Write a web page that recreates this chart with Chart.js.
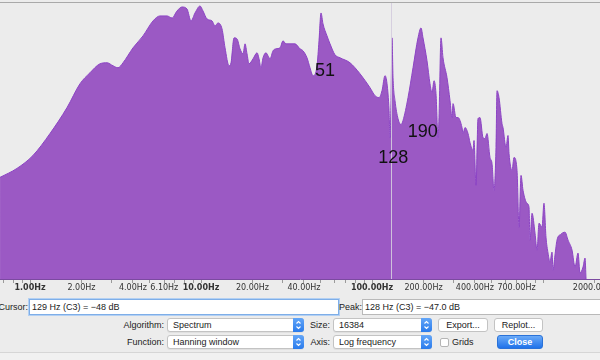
<!DOCTYPE html>
<html>
<head>
<meta charset="utf-8">
<script src="https://cdn.jsdelivr.net/npm/chart.js@4.4.1/dist/chart.umd.min.js"></script>
<style>
  html, body { margin:0; padding:0; }
  body { width:600px; height:360px; overflow:hidden; background:#ececec; position:relative;
         font-family:"Liberation Sans", Arial, sans-serif; font-size:9px; color:#222; }
  #wrap { position:absolute; left:0; top:0; width:600px; height:295px; }
  .abs { position:absolute; white-space:nowrap; }
  .lbl { text-align:right; }
  .field { background:#fff; border:1px solid #b9b9b9; box-sizing:border-box; padding-left:2px; }
  .focus { border:1px solid #7eaee8; box-shadow:0 0 0 1px #b3d0f3; }
  .combo { background:#fff; border:1px solid #c3c3c3; border-radius:3px; box-sizing:border-box;
           padding-left:5px; box-shadow:0 1px 0 rgba(0,0,0,0.05); }
  .step { position:absolute; right:-1px; top:-1px; bottom:-1px; width:11px; border-radius:0 3px 3px 0;
          background:linear-gradient(#63a6f8,#2a7bec); }
  .btn { background:#fff; border:1px solid #c3c3c3; border-radius:3px; box-sizing:border-box; text-align:center; }
  .blue { background:linear-gradient(#6aaaf8,#1f72ea); border:1px solid #2a72d8; color:#fff; font-weight:bold; }
</style>
</head>
<body>
<div id="wrap"><canvas id="c" width="600" height="295"></canvas></div>

<div class="abs lbl" style="left:-22px;top:299px;width:50px;height:16px;line-height:16px;">Cursor:</div>
<div class="abs field focus" style="left:29px;top:299px;width:310px;height:16px;line-height:14px;">129 Hz (C3) = −48 dB</div>
<div class="abs lbl" style="left:332px;top:299px;width:30px;height:16px;line-height:16px;">Peak:</div>
<div class="abs field" style="left:362px;top:299px;width:250px;height:16px;line-height:14px;">128 Hz (C3) = −47.0 dB</div>

<div class="abs lbl" style="left:100px;top:318px;width:64px;height:14px;line-height:14px;">Algorithm:</div>
<div class="abs combo" style="left:167px;top:318px;width:137px;height:14px;line-height:12px;">Spectrum<div class="step"><svg width="11" height="14" viewBox="0 0 11 14"><polyline points="3.5,5.5 5.5,3.5 7.5,5.5" fill="none" stroke="#fff" stroke-width="1.1"/><polyline points="3.5,8.5 5.5,10.5 7.5,8.5" fill="none" stroke="#fff" stroke-width="1.1"/></svg></div></div>
<div class="abs lbl" style="left:300px;top:318px;width:30px;height:14px;line-height:14px;">Size:</div>
<div class="abs combo" style="left:333px;top:318px;width:99px;height:14px;line-height:12px;">16384<div class="step"><svg width="11" height="14" viewBox="0 0 11 14"><polyline points="3.5,5.5 5.5,3.5 7.5,5.5" fill="none" stroke="#fff" stroke-width="1.1"/><polyline points="3.5,8.5 5.5,10.5 7.5,8.5" fill="none" stroke="#fff" stroke-width="1.1"/></svg></div></div>
<div class="abs btn" style="left:438px;top:318px;width:50px;height:14px;line-height:12px;">Export...</div>
<div class="abs btn" style="left:494px;top:318px;width:49px;height:14px;line-height:12px;">Replot...</div>

<div class="abs lbl" style="left:100px;top:335px;width:64px;height:14px;line-height:14px;">Function:</div>
<div class="abs combo" style="left:167px;top:335px;width:137px;height:14px;line-height:12px;">Hanning window<div class="step"><svg width="11" height="14" viewBox="0 0 11 14"><polyline points="3.5,5.5 5.5,3.5 7.5,5.5" fill="none" stroke="#fff" stroke-width="1.1"/><polyline points="3.5,8.5 5.5,10.5 7.5,8.5" fill="none" stroke="#fff" stroke-width="1.1"/></svg></div></div>
<div class="abs lbl" style="left:300px;top:335px;width:30px;height:14px;line-height:14px;">Axis:</div>
<div class="abs combo" style="left:333px;top:335px;width:99px;height:14px;line-height:12px;">Log frequency<div class="step"><svg width="11" height="14" viewBox="0 0 11 14"><polyline points="3.5,5.5 5.5,3.5 7.5,5.5" fill="none" stroke="#fff" stroke-width="1.1"/><polyline points="3.5,8.5 5.5,10.5 7.5,8.5" fill="none" stroke="#fff" stroke-width="1.1"/></svg></div></div>
<div class="abs" style="left:440px;top:338px;width:9px;height:9px;background:#fff;border:1px solid #b5b5b5;border-radius:2px;box-sizing:border-box;"></div>
<div class="abs" style="left:452px;top:335px;height:14px;line-height:14px;">Grids</div>
<div class="abs btn blue" style="left:497px;top:335px;width:46px;height:14px;line-height:12px;">Close</div>

<div class="abs" style="left:0;top:352px;width:600px;height:8px;background:#f1f1f1;border-top:1px solid #d6d6d6;"></div>

<script>
// ---- data ----
const freqHz = [0.668, 0.839, 1.041, 1.309, 1.646, 1.961, 2.243, 2.567, 2.820, 3.058, 3.271, 3.499, 4.003, 4.580,
  5.240, 5.757, 6.328, 6.768, 7.239, 7.742, 8.281, 8.741, 9.224, 9.866, 10.27, 10.84, 11.60, 12.07, 12.57, 13.27,
  13.82, 14.58, 14.98, 15.60, 16.24, 16.91, 17.61, 18.09, 18.58, 19.09, 20.15, 21.27, 21.84, 22.43, 23.05, 23.99,
  24.65, 25.32, 26.37, 27.46, 28.97, 30.17, 31.41, 33.15, 35.45, 37.93, 39.49, 41.67, 43.39, 45.18, 47.68, 48.98,
  50.32, 51.69, 54.55, 56.81, 60.76, 65.01, 74.35, 85.06, 97.34, 104.1, 109.9, 114.4, 119.1, 122.4, 125.8, 127.4,
  129.2, 130.9, 132.7, 136.3, 141.9, 147.8, 151.8, 162.4, 173.7, 185.8, 193.4, 198.7, 209.7, 218.3, 224.3, 230.5,
  236.7, 243.2, 246.5, 253.2, 260.1, 274.6, 285.9, 293.7, 297.7, 309.9, 318.4, 336.0, 340.6, 349.9, 364.3, 374.2,
  389.6, 394.9, 405.7, 416.8, 428.1, 445.8, 458.0, 470.5, 489.8, 503.2, 516.9, 531.0, 538.3, 553.0, 575.7, 583.5,
  607.6, 624.2, 632.7, 658.8, 676.8, 704.7, 723.9, 743.7, 764.0, 806.3, 828.3, 839.5, 862.4, 898.0, 922.5, 947.6,
  986.6, 1013, 1041, 1070, 1099, 1129, 1144, 1175, 1207, 1274, 1345, 1401, 1478, 1539, 1602, 1646, 1714, 1761, 1785];
const levelDb = [-81.75, -79.5, -76.25, -70.75, -64.25, -58.25, -55.5, -53.25, -53, -53.75, -54.25, -53, -49.25, -46.25,
  -42.5, -41.25, -41.25, -41.75, -40, -39, -39.5, -42.5, -40.5, -38.75, -40, -42, -42.5, -43.75, -43, -44.5,
  -49.25, -53.75, -53, -46.75, -47, -49.5, -50.75, -48.25, -50.75, -53.25, -52, -50.5, -52, -54.25, -51.75, -50.5,
  -51.25, -52, -50, -49.5, -49.25, -47.5, -48.25, -48.25, -48.25, -49.5, -50, -51.75, -54.25, -56.25, -53.75, -47.5,
  -40.5, -43.25, -46.25, -48.25, -51, -51.75, -53, -55.75, -59.25, -61.25, -61.75, -60, -56.25, -58.25, -65, -71.75,
  -62.5, -46.75, -56.75, -62.5, -67, -68.5, -67.5, -61.75, -54.25, -46.75, -44.25, -46.75, -52.5, -58.25, -60.5, -57.5,
  -60.75, -71.75, -66.75, -46.75, -51.75, -56.75, -62.5, -66.75, -63.25, -66.75, -66.75, -69.25, -70.75, -69.25, -70.75, -73,
  -75, -72.5, -83.75, -67, -66.75, -71.75, -72, -70.75, -76.75, -78.25, -85, -74.25, -60, -61.75, -68.25, -69.25,
  -74.25, -71.25, -75.75, -80, -76.75, -80, -94.25, -81.25, -85, -88.25, -89.25, -97.5, -90.75, -95.75, -100, -93.25,
  -94.25, -88.25, -96.75, -100.75, -103, -100.5, -105, -101.25, -97.5, -96, -95.5, -97.5, -100, -104.25, -100.75, -105.75, -104.25, -102, -107.25];

// axis
const xMinHz = 0.6676, xMaxHz = 2154;
const yMinDb = -107.25, yMaxDb = -38;
const tickHz = [0.7, 0.8, 0.9, 1, 2, 3, 4, 5, 6.1, 7, 8, 9, 10, 20, 30, 40, 50, 60, 70, 80, 90,
  100, 200, 300, 400, 500, 600, 700, 800, 900, 1000, 2000];
const labeledHz = [1, 2, 4, 6.1, 10, 20, 40, 100, 200, 400, 700, 2000];
const boldHz = [1, 10, 100];

// peak annotations and cursor
const peakText = ['51', '128', '190'];
const peakHz = [51, 128, 190];
const peakDb = [-55, -77, -70.25];
const cursorHz = 129;

const points = freqHz.map((f, i) => ({ x: f, y: levelDb[i] }));

const overlay = {
  id: 'overlay',
  afterDatasetsDraw(chart) {
    const { ctx, chartArea: a, scales } = chart;
    ctx.save();
    ctx.strokeStyle = '#a9a9a9';
    ctx.lineWidth = 1;
    ctx.beginPath();
    ctx.moveTo(a.left, a.top - 0.5);
    ctx.lineTo(a.right, a.top - 0.5);
    ctx.stroke();
    const cx = Math.round(scales.x.getPixelForValue(cursorHz)) + 0.5;
    ctx.strokeStyle = 'rgba(212,204,222,0.9)';
    ctx.beginPath();
    ctx.moveTo(cx, a.top);
    ctx.lineTo(cx, a.bottom);
    ctx.stroke();
    ctx.fillStyle = '#111';
    ctx.font = '18px "Liberation Sans", Arial, sans-serif';
    ctx.textAlign = 'center';
    ctx.textBaseline = 'middle';
    peakText.forEach((t, i) => {
      ctx.fillText(t, scales.x.getPixelForValue(peakHz[i]) + 3, scales.y.getPixelForValue(peakDb[i]));
    });
    ctx.restore();
  }
};

new Chart(document.getElementById('c'), {
  type: 'line',
  data: {
    datasets: [{
      data: points,
      borderColor: '#8c44c4',
      borderWidth: 1,
      backgroundColor: '#9b59c4',
      fill: 'start',
      pointRadius: 0,
      cubicInterpolationMode: 'monotone'
    }]
  },
  options: {
    responsive: false,
    animation: false,
    layout: { padding: { top: 3, left: 0, right: 0, bottom: 0 } },
    plugins: { legend: { display: false }, tooltip: { enabled: false } },
    scales: {
      x: {
        type: 'logarithmic',
        min: xMinHz,
        max: xMaxHz,
        afterBuildTicks: (s) => { s.ticks = tickHz.map(v => ({ value: v })); },
        afterFit: (s) => { s.height = 16; s.paddingLeft = 0; s.paddingRight = 0; },
        ticks: {
          autoSkip: false, maxRotation: 0, minRotation: 0, padding: 0,
          color: '#333',
          font: (c) => ({ family: '"DejaVu Sans", sans-serif', size: 8,
                           weight: (c.tick && boldHz.includes(c.tick.value)) ? 'bold' : 'normal' }),
          callback: (v) => labeledHz.includes(v) ? v.toFixed(2) + 'Hz' : ''
        },
        grid: { drawOnChartArea: false, drawTicks: true, tickLength: 4, color: '#9a9a9a' },
        border: { display: true, color: '#7b4aa0' }
      },
      y: { display: false, min: yMinDb, max: yMaxDb }
    }
  },
  plugins: [overlay]
});
</script>
</body>
</html>
